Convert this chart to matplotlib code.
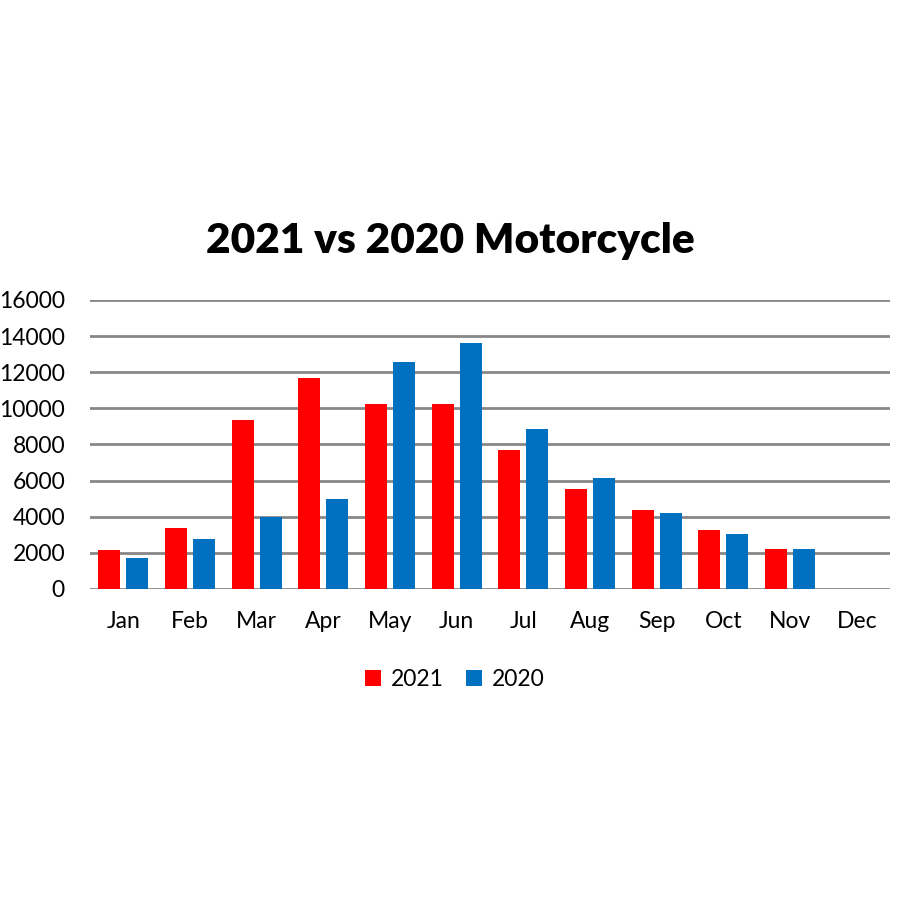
import matplotlib
matplotlib.use("Agg")
import matplotlib.pyplot as plt
import numpy as np

plt.rcParams['font.family'] = ['Lato', 'DejaVu Sans']

months = ["Jan", "Feb", "Mar", "Apr", "May", "Jun", "Jul", "Aug", "Sep", "Oct", "Nov", "Dec"]
sales_2021 = [2150, 3370, 9330, 11700, 10220, 10220, 7670, 5540, 4390, 3240, 2190, 0]
sales_2020 = [1700, 2740, 3960, 4960, 12540, 13630, 8830, 6170, 4200, 3020, 2220, 0]
y_ticks = [0, 2000, 4000, 6000, 8000, 10000, 12000, 14000, 16000]

fig = plt.figure(figsize=(9, 9), dpi=100)
ax = fig.add_axes([0.1, 0.3456, 0.889, 0.3211])

x = np.arange(len(months))
w = 0.33
ax.bar(x - 0.21, sales_2021, w, color='#ff0000', label='2021', zorder=3)
ax.bar(x + 0.21, sales_2020, w, color='#0070c0', label='2020', zorder=3)

ax.set_xlim(-0.5, 11.5)
ax.set_ylim(0, 16000)
ax.set_yticks(y_ticks)
ax.set_xticks(x)
ax.set_xticklabels(months)
ax.yaxis.grid(True, color='#878787', linewidth=2, zorder=0)
for s in ax.spines.values():
    s.set_visible(False)
ax.tick_params(axis='both', length=0, labelsize=16.5)
ax.tick_params(axis='y', pad=18)
ax.tick_params(axis='x', pad=16)

fig.text(0.5, 0.732, "2021 vs 2020 Motorcycle", ha='center', va='center',
         fontsize=30.5, fontweight='heavy')

ax.legend(loc='center', bbox_to_anchor=(0.456, -0.315), ncol=2, frameon=False,
          fontsize=16.5, handlelength=0.7, handleheight=0.7, handletextpad=0.4,
          columnspacing=1.0)

fig.savefig("out.png", dpi=100, facecolor='white')
